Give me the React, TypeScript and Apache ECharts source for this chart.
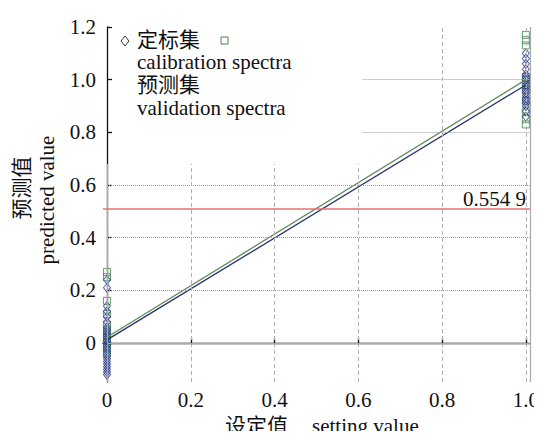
import React, { useEffect, useRef } from "react";
import * as echarts from "echarts";

const xTicks = [0, 0.2, 0.4, 0.6, 0.8, 1.0];
const yTicks = [0, 0.2, 0.4, 0.6, 0.8, 1.0, 1.2];

// calibration spectra (diamonds) at setting value 0 and 1
const calibAt0 = [0.24, 0.21, 0.14, 0.12, 0.1, 0.08, 0.06, 0.05, 0.04, 0.03, 0.02, 0.01, 0.0, -0.01, -0.02, -0.03, -0.04, -0.05, -0.06, -0.07, -0.08, -0.09, -0.1, -0.11, -0.12];
const calibAt1 = [1.1, 1.08, 1.06, 1.04, 1.02, 1.01, 1.0, 0.99, 0.98, 0.97, 0.96, 0.95, 0.94, 0.93, 0.92, 0.91, 0.9, 0.88, 0.86];
// validation spectra (squares)
const validAt0 = [0.27, 0.25, 0.16, 0.11, 0.07, 0.05, 0.04, 0.03, 0.02, 0.01, 0.0, -0.01, -0.02, -0.04];
const validAt1 = [1.17, 1.15, 1.13, 1.01, 1.0, 0.98, 0.96, 0.92, 0.88, 0.85, 0.83];

// regression lines [x, y]
const calibFit = [[0, 0.012], [1, 0.98]];
const validFit = [[0, 0.022], [1, 1.0]];

const threshold = 0.51;
const thresholdLabel = "0.554 9";

const SERIF = "Liberation Serif";
const CJK = "Liberation Serif, Noto Sans CJK SC";
const FS = 21;

export default function App() {
  const ref = useRef<HTMLDivElement>(null);
  useEffect(() => {
    if (!ref.current) return;
    const chart = echarts.init(ref.current, undefined, { renderer: "svg" });
    const grey = "#9a9a9a";
    const dotted = { color: grey, type: "dotted" as const, width: 1 };
    const dashed = { color: "#b0b0b0", type: [4, 3] as any, width: 1 };
    const seg = (a: number[], b: number[], style: any) => [
      { coord: a, lineStyle: style },
      { coord: b },
    ];
    const txt = (x: number, y: number, text: string, font: string, extra: any = {}) => ({
      type: "text",
      x,
      y,
      ...extra,
      style: { text, fontSize: FS, fontFamily: font, fill: "#111", verticalAlign: "middle", ...(extra.style || {}) },
    });
    chart.setOption({
      animation: false,
      textStyle: { fontFamily: SERIF },
      grid: { left: 103, right: 11, top: 27, bottom: 57 },
      xAxis: {
        type: "value",
        min: -0.0095,
        max: 1.0095,
        axisLine: { show: true, lineStyle: { color: "#111", width: 1.3 } },
        axisTick: { show: true, inside: true, length: 5, customValues: xTicks, lineStyle: { color: "#111", width: 1.3 } },
        axisLabel: {
          customValues: xTicks,
          margin: 7,
          color: "#111",
          fontFamily: SERIF,
          fontSize: FS,
          formatter: (v: number) => (v === 0 ? "0" : v.toFixed(1)),
        },
        splitLine: { show: false },
      },
      yAxis: {
        type: "value",
        min: -0.148,
        max: 1.2,
        axisLine: { show: true, lineStyle: { color: "#111", width: 1.3 } },
        axisTick: { show: true, inside: true, length: 5, customValues: yTicks, lineStyle: { color: "#111", width: 1.3 } },
        axisLabel: {
          customValues: yTicks,
          margin: 7,
          color: "#111",
          fontFamily: SERIF,
          fontSize: FS,
          formatter: (v: number) => (v === 0 ? "0" : v.toFixed(1)),
        },
        splitLine: { show: false },
      },
      series: [
        {
          type: "line",
          data: [],
          silent: true,
          markLine: {
            silent: true,
            symbol: "none",
            label: { show: false },
            data: [
              seg([0, 0.2], [1.0095, 0.2], dotted),
              seg([0, 0.4], [1.0095, 0.4], dotted),
              seg([0, 0.6], [1.0095, 0.6], dotted),
              seg([0.61, 0.8], [1.0095, 0.8], dotted),
              seg([0.61, 1.0], [1.0095, 1.0], dotted),
              seg([0.2, -0.148], [0.2, 0.68], dashed),
              seg([0.4, -0.148], [0.4, 0.68], dashed),
              seg([0.6, -0.148], [0.6, 0.68], dashed),
              seg([0.8, -0.148], [0.8, 1.2], dashed),
              seg([1.0, -0.148], [1.0, 1.2], dashed),
              seg([0, -0.148], [0, 0.68], { color: "#aaa", type: "solid", width: 1.2 }),
              seg([0, 0], [1.0095, 0], { color: "#aaa", type: "solid", width: 1.2 }),
              seg([1.0095, -0.148], [1.0095, 1.2], { color: "#aaa", type: "solid", width: 1.2 }),
              [
                { coord: [-0.0095, threshold], lineStyle: { color: "#e87070", type: "solid", width: 1.6 } },
                { coord: [1.0095, threshold] },
              ],
            ],
          },
        },
        {
          type: "line",
          data: validFit,
          showSymbol: false,
          silent: true,
          lineStyle: { color: "#5d8a5a", width: 1.3 },
        },
        {
          type: "line",
          data: calibFit,
          showSymbol: false,
          silent: true,
          lineStyle: { color: "#2a2f6e", width: 1.3 },
        },
        {
          type: "scatter",
          symbol: "rect",
          symbolSize: 7,
          data: [...validAt0.map((y) => [0, y]), ...validAt1.map((y) => [1, y])],
          itemStyle: { color: "rgba(0,0,0,0)", borderColor: "#3f8a45", borderWidth: 1 },
        },
        {
          type: "scatter",
          symbol: "diamond",
          symbolSize: [7, 9],
          data: [...calibAt0.map((y) => [0, y]), ...calibAt1.map((y) => [1, y])],
          itemStyle: { color: "rgba(0,0,0,0)", borderColor: "#2c3b8c", borderWidth: 1 },
        },
      ],
      graphic: [
        { type: "polygon", shape: { points: [[125, 36], [129, 41], [125, 46], [121, 41]] }, style: { fill: "none", stroke: "#333", lineWidth: 1 } },
        { type: "rect", shape: { x: 221, y: 37, width: 7, height: 7 }, style: { fill: "none", stroke: "#3f8a45", lineWidth: 1 } },
        txt(137, 40, "定标集", CJK),
        txt(137, 62, "calibration spectra", SERIF),
        txt(137, 85, "预测集", CJK),
        txt(137, 108, "validation spectra", SERIF),
        txt(526, 199, thresholdLabel, SERIF, { style: { align: "right" } }),
        txt(225, 426, "设定值", CJK),
        txt(312, 426, "setting value", SERIF),
        txt(22, 188, "预测值", CJK, { rotation: Math.PI / 2, style: { align: "center" } }),
        txt(47, 200, "predicted value", SERIF, { rotation: Math.PI / 2, style: { align: "center" } }),
      ],
    });
    return () => chart.dispose();
  }, []);
  return <div ref={ref} style={{ width: 542, height: 439, margin: -8 }} />;
}
